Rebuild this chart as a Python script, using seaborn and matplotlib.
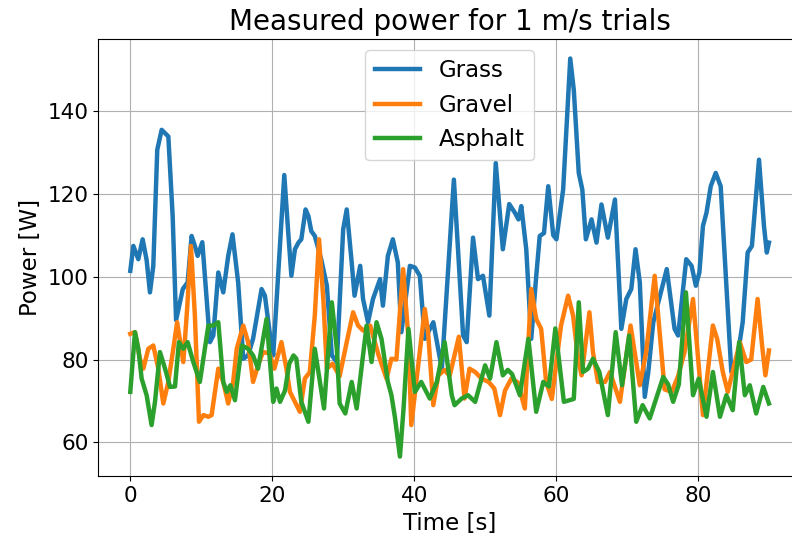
import numpy as np
import pandas as pd
import matplotlib
matplotlib.use("Agg")
import matplotlib.pyplot as plt
import seaborn as sns

# ---- data ----
grass_t = [0.0, 0.43, 1.13, 1.74, 2.3, 2.77, 3.24, 3.8, 4.42, 4.9, 5.36, 5.97, 6.45, 7.4, 8.08, 8.64, 9.1, 9.49,
           10.15, 10.75, 11.22, 11.7, 12.4, 13.1, 13.8, 14.4, 15.2, 15.92, 16.6, 17.3, 18.5, 18.97, 19.7, 20.14,
           21.7, 22.2, 22.7, 23.2, 23.7, 24.1, 24.7, 25.1, 25.5, 26.0, 26.9, 27.7, 28.4, 29.1, 30.0, 30.5, 31.2,
           31.6, 32.4, 32.8, 33.5, 34.2, 35.2, 35.6, 36.3, 37.0, 37.7, 38.2, 39.4, 40.1, 40.8, 41.5, 42.7, 43.9,
           45.6, 46.9, 47.4, 48.3, 49.0, 49.7, 50.6, 51.5, 52.5, 53.4, 54.2, 54.7, 55.1, 55.8, 56.5, 57.2, 57.7,
           58.3, 58.9, 59.6, 60.05, 61.0, 62.0, 62.5, 63.2, 63.7, 64.2, 65.0, 65.7, 66.4, 67.3, 68.3, 69.2, 69.9,
           70.6, 71.2, 71.8, 72.5, 73.0, 73.7, 75.6, 76.7, 77.2, 78.35, 79.1, 79.7, 80.2, 80.7, 81.2, 81.8, 82.5,
           83.2, 84.7, 85.4, 86.3, 87.0, 87.6, 88.6, 89.3, 89.7, 90.0]
grass_w = [101.4, 107.4, 104.2, 109.0, 104.0, 96.2, 102.6, 130.6, 135.4, 134.6, 133.8, 114.6, 89.5, 97.0, 98.6,
           109.8, 107.4, 105.0, 108.3, 94.6, 84.2, 85.8, 101.0, 96.2, 105.0, 110.2, 98.6, 80.2, 81.0, 85.0, 97.0,
           95.4, 85.8, 81.0, 124.5, 112.0, 100.2, 106.6, 108.2, 109.0, 116.2, 114.6, 111.0, 109.8, 104.2, 97.8,
           81.0, 79.4, 111.4, 116.2, 103.4, 95.4, 102.6, 94.6, 89.0, 94.6, 99.4, 93.0, 105.0, 109.0, 103.4, 86.6,
           102.6, 102.2, 100.2, 85.0, 89.0, 77.8, 123.4, 85.8, 84.2, 109.4, 99.4, 100.2, 90.6, 127.4, 106.6,
           117.5, 115.4, 113.8, 117.0, 106.6, 85.0, 100.0, 109.8, 110.5, 121.8, 110.0, 109.0, 121.0, 152.6, 145.0,
           125.0, 121.0, 109.0, 113.8, 108.2, 117.4, 109.4, 118.6, 87.4, 94.6, 97.0, 106.6, 98.6, 71.0, 77.0,
           89.0, 101.8, 87.4, 85.8, 104.2, 102.6, 97.8, 101.0, 112.2, 115.4, 121.8, 125.0, 121.8, 77.0, 78.6,
           89.0, 105.8, 107.4, 128.2, 112.2, 105.8, 108.2]

gravel_t = [0.0, 0.66, 1.36, 1.83, 2.54, 3.24, 3.95, 4.65, 5.36, 6.06, 6.6, 7.47, 8.0, 8.55, 9.1, 9.68, 10.3, 11.0,
            11.46, 12.4, 13.1, 13.8, 14.5, 15.0, 15.92, 16.6, 17.3, 18.0, 18.7, 19.6, 20.3, 21.3, 22.0, 22.5, 23.2,
            23.9, 24.6, 25.3, 26.0, 26.6, 27.2, 27.7, 28.5, 29.5, 30.5, 31.4, 32.1, 32.8, 33.8, 35.0, 36.1, 36.8,
            37.5, 38.45, 39.2, 39.6, 40.3, 41.5, 41.96, 42.7, 43.4, 44.3, 45.0, 46.3, 47.1, 47.8, 48.6, 49.5, 50.5,
            51.3, 52.1, 52.8, 53.7, 54.6, 55.6, 56.5, 57.2, 57.9, 58.6, 59.4, 60.7, 61.7, 62.4, 63.1, 63.6, 64.7,
            65.2, 65.9, 66.9, 67.6, 69.0, 70.5, 71.8, 72.7, 73.9, 75.3, 76.3, 77.2, 78.1, 79.3, 80.7, 82.1, 82.7,
            83.5, 84.2, 85.9, 86.8, 87.5, 88.4, 89.0, 89.5, 90.0]
gravel_w = [86.2, 86.6, 80.2, 77.8, 82.6, 83.4, 77.8, 69.4, 74.6, 82.6, 89.0, 79.4, 92.0, 107.4, 90.6, 65.0, 66.6,
            66.2, 66.6, 77.8, 74.6, 69.4, 74.6, 82.6, 88.2, 84.2, 74.6, 78.6, 81.8, 81.5, 77.8, 84.2, 77.8, 72.2,
            69.8, 67.4, 75.4, 77.0, 90.6, 109.0, 94.6, 77.8, 79.0, 76.0, 84.2, 91.4, 88.2, 87.0, 88.2, 81.0, 75.4,
            80.2, 80.0, 101.8, 85.0, 64.2, 74.6, 92.2, 86.6, 69.0, 76.2, 77.5, 76.0, 85.5, 70.6, 77.8, 77.0, 75.4,
            74.6, 73.0, 66.6, 72.5, 75.4, 74.5, 68.2, 97.0, 89.8, 87.4, 74.6, 70.5, 88.2, 95.4, 90.6, 80.2, 76.2,
            91.4, 81.8, 74.6, 74.6, 77.0, 69.8, 88.2, 73.8, 81.8, 100.2, 72.8, 72.2, 76.0, 81.8, 94.6, 66.6, 88.2,
            85.0, 77.0, 72.2, 84.2, 79.4, 80.0, 94.6, 84.0, 76.2, 82.2]

asphalt_t = [0.0, 0.66, 1.13, 1.6, 2.3, 3.0, 3.48, 4.18, 4.9, 5.6, 6.3, 6.85, 7.47, 8.08, 8.88, 9.8, 11.0, 11.7,
             12.4, 13.1, 13.6, 14.1, 14.75, 15.7, 16.6, 17.3, 18.0, 19.2, 20.14, 20.6, 21.1, 21.8, 22.4, 23.0, 23.4,
             24.1, 25.1, 26.0, 27.3, 28.4, 29.1, 29.5, 30.3, 31.2, 31.9, 33.3, 34.0, 34.7, 35.4, 36.3, 36.8, 37.3,
             38.0, 38.5, 39.2, 40.1, 41.0, 42.2, 43.2, 44.3, 45.3, 45.7, 46.7, 47.6, 48.6, 50.0, 50.7, 51.6, 52.5,
             53.2, 53.8, 54.9, 56.1, 57.2, 58.2, 59.0, 59.9, 61.1, 61.9, 62.5, 63.2, 63.8, 64.5, 65.2, 66.1, 67.3,
             68.4, 69.3, 70.3, 71.3, 72.2, 73.2, 75.1, 75.8, 76.5, 77.3, 78.3, 79.3, 80.1, 81.2, 82.1, 83.1, 84.0,
             84.9, 85.8, 86.6, 87.3, 88.2, 89.2, 90.0]
asphalt_w = [72.2, 86.6, 82.6, 75.4, 71.4, 64.2, 69.8, 81.8, 77.8, 73.4, 73.5, 84.2, 82.6, 84.2, 79.4, 74.6, 88.2,
             88.2, 89.0, 74.6, 72.2, 73.8, 70.2, 83.4, 82.6, 81.0, 77.8, 89.8, 69.8, 73.0, 69.8, 72.5, 79.0, 81.0,
             80.2, 69.8, 65.0, 82.6, 68.2, 93.8, 82.6, 69.4, 67.0, 74.6, 68.2, 88.2, 79.4, 89.0, 85.0, 74.6, 71.4,
             66.0, 56.6, 68.0, 87.4, 72.2, 74.6, 70.6, 74.6, 84.2, 71.4, 69.0, 70.6, 71.4, 69.8, 78.6, 75.4, 84.2,
             76.2, 77.5, 76.5, 71.4, 85.0, 67.4, 74.6, 73.5, 87.5, 69.8, 70.2, 70.5, 93.8, 77.0, 77.8, 80.2, 77.0,
             66.6, 86.6, 73.8, 85.8, 65.0, 69.0, 65.8, 75.8, 74.0, 69.8, 74.0, 96.2, 71.4, 75.4, 66.2, 77.0, 66.2,
             71.4, 67.8, 84.2, 71.4, 73.8, 67.0, 73.4, 69.4]

surfaces = ["Grass", "Gravel", "Asphalt"]
colors = ["#1f77b4", "#ff7f0e", "#2ca02c"]

df = pd.concat([
    pd.DataFrame({"Time": grass_t, "Power": grass_w, "Surface": surfaces[0]}),
    pd.DataFrame({"Time": gravel_t, "Power": gravel_w, "Surface": surfaces[1]}),
    pd.DataFrame({"Time": asphalt_t, "Power": asphalt_w, "Surface": surfaces[2]}),
], ignore_index=True)

plt.rcParams["font.family"] = ["DejaVu Sans"]
fig = plt.figure(figsize=(7.92, 5.43), dpi=100)
ax = fig.add_axes([0.1242, 0.1225, 0.887, 0.8064])

sns.lineplot(data=df, x="Time", y="Power", hue="Surface", hue_order=surfaces,
             palette=colors, linewidth=3.2, estimator=None, sort=False, ax=ax)

ax.grid(True, color="#b0b0b0", linewidth=0.8)
ax.set_axisbelow(True)
ax.set_title("Measured power for 1 m/s trials", fontsize=20)
ax.set_xlabel("Time [s]", fontsize=16.5)
ax.set_ylabel("Power [W]", fontsize=16.5)
ax.tick_params(labelsize=15.5)
ax.set_xticks([0, 20, 40, 60, 80])
ax.set_yticks([60, 80, 100, 120, 140])
leg = ax.legend(loc="upper center", fontsize=16.5, title=None)

fig.savefig("out.png", dpi=100)
